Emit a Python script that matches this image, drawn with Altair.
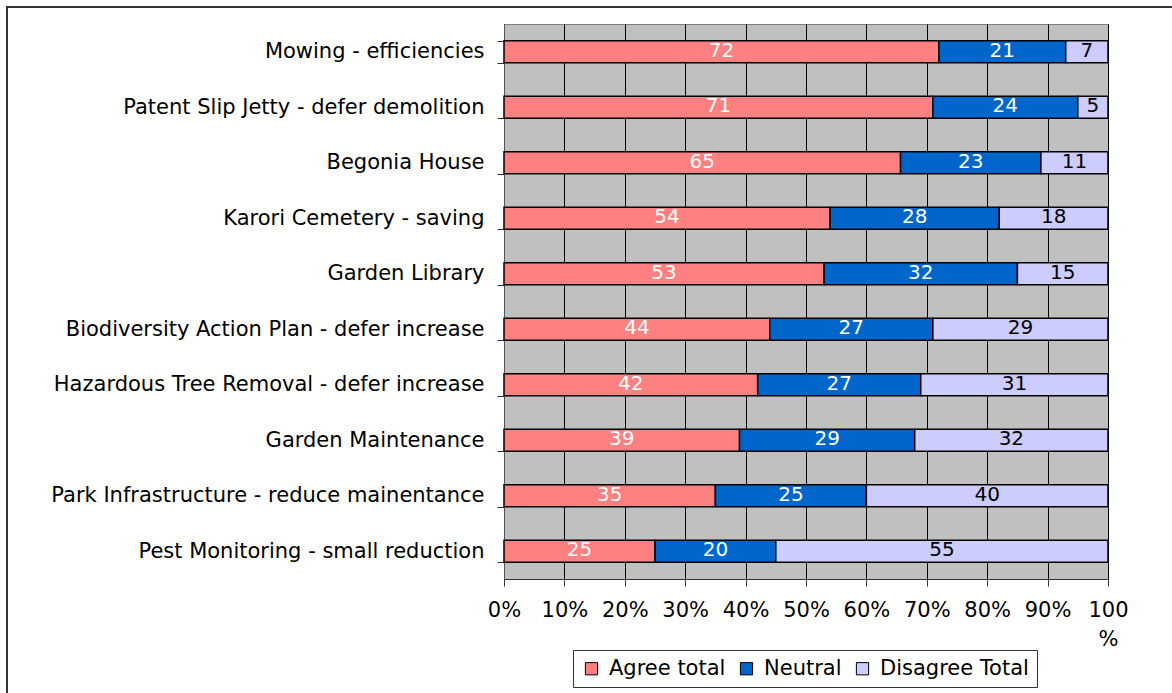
import altair as alt
import pandas as pd

# Survey items, listed top to bottom
categories = [
    "Mowing - efficiencies",
    "Patent Slip Jetty - defer demolition",
    "Begonia House",
    "Karori Cemetery - saving",
    "Garden Library",
    "Biodiversity Action Plan - defer increase",
    "Hazardous Tree Removal - defer increase",
    "Garden Maintenance",
    "Park Infrastructure - reduce mainentance",
    "Pest Monitoring - small reduction",
]
agree = [72, 71, 65, 54, 53, 44, 42, 39, 35, 25]
neutral = [21, 24, 23, 28, 32, 27, 27, 29, 25, 20]
disagree = [7, 5, 11, 18, 15, 29, 31, 32, 40, 55]

series_names = ["Agree total", "Neutral", "Disagree Total"]
series_colors = ["#FF8080", "#0066CC", "#CCCCFF"]
x_ticks = [0, 0.1, 0.2, 0.3, 0.4, 0.5, 0.6, 0.7, 0.8, 0.9, 1.0]

rows = []
for i, cat in enumerate(categories):
    for k, vals in enumerate([agree, neutral, disagree]):
        rows.append({"category": cat, "series": series_names[k], "order": k, "value": vals[i]})
df = pd.DataFrame(rows)

FONT = "DejaVu Sans"

base = alt.Chart(df).transform_stack(
    stack="value",
    as_=["x0", "x1"],
    groupby=["category"],
    offset="normalize",
    sort=[alt.SortField("order", order="ascending")],
)

y_enc = alt.Y(
    "category:N",
    sort=categories,
    title=None,
    scale=alt.Scale(paddingInner=0.6, paddingOuter=0.3),
    axis=alt.Axis(
        tickBand="extent",
        tickSize=7,
        tickColor="#333333",
        domainColor="#555555",
        labelPadding=13,
        labelFontSize=21,
        labelColor="black",
        labelLimit=700,
        grid=False,
    ),
)

bars = base.mark_bar(stroke="black", strokeWidth=1.5).encode(
    y=y_enc,
    x=alt.X(
        "x0:Q",
        title=None,
        scale=alt.Scale(domain=[0, 1], nice=False),
        axis=alt.Axis(
            values=x_ticks,
            format=".0%",
            labelExpr="datum.value == 1 ? ['100', '%'] : datum.label",
            labelFlush=False,
            labelFontSize=21,
            labelColor="black",
            labelPadding=13,
            labelLineHeight=29,
            tickSize=7,
            tickColor="#333333",
            domainColor="#333333",
            grid=True,
            gridColor="#000000",
            gridWidth=1,
            gridOpacity=1,
        ),
    ),
    x2="x1:Q",
    color=alt.Color(
        "series:N",
        scale=alt.Scale(domain=series_names, range=series_colors),
        sort=series_names,
        legend=alt.Legend(
            title=None,
            orient="none",
            legendX=69,
            legendY=626,
            direction="horizontal",
            symbolType="square",
            symbolSize=150,
            symbolStrokeColor="black",
            symbolStrokeWidth=1,
            labelFontSize=21,
            labelColor="black",
            labelOffset=7,
            columnPadding=10,
            padding=8,
            strokeColor="#333333",
            fillColor="white",
        ),
    ),
    order=alt.Order("order:Q"),
)

labels = base.transform_calculate(mid="(datum.x0 + datum.x1) / 2").mark_text(
    fontSize=20, font=FONT, baseline="middle", align="center", dy=-1
).encode(
    y=alt.Y("category:N", sort=categories),
    x=alt.X("mid:Q"),
    text=alt.Text("value:Q"),
    color=alt.condition(
        alt.datum.series == "Disagree Total", alt.value("black"), alt.value("white")
    ),
)

# Outer border around the whole figure
frame = alt.Chart(pd.DataFrame({"k": [0]})).mark_rect(
    fill=None, stroke="#333333", strokeWidth=2
).encode(
    x=alt.value(-497), x2=alt.value(680), y=alt.value(-17), y2=alt.value(700)
)

chart = alt.layer(frame, bars, labels).properties(
    width=604,
    height=555,
    autosize=alt.AutoSizeParams(type="none"),
    padding={"left": 504, "top": 24, "right": 64, "bottom": 114},
    background="white",
).configure(font=FONT).configure_view(
    fill="#C0C0C0", stroke="#808080", strokeWidth=1
)

chart.save("out.html", embed_options={"renderer": "svg", "actions": False})
